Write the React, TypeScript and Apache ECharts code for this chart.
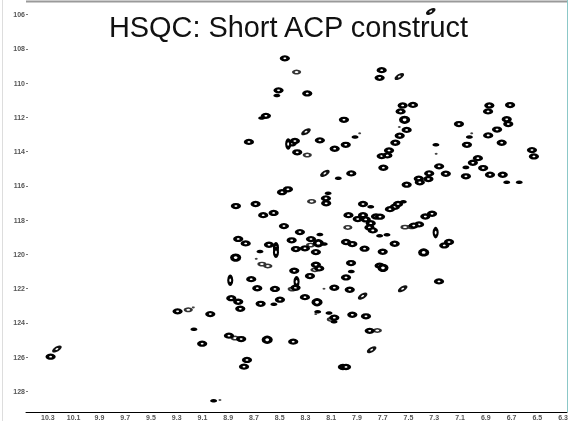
import React, { useEffect, useRef } from "react";
import * as echarts from "echarts";

const titleText = "HSQC: Short ACP construct";
const xTicks = [10.3, 10.1, 9.9, 9.7, 9.5, 9.3, 9.1, 8.9, 8.7, 8.5, 8.3, 8.1, 7.9, 7.7, 7.5, 7.3, 7.1, 6.9, 6.7, 6.5, 6.3];
const yTicks = [106, 108, 110, 112, 114, 116, 118, 120, 122, 124, 126, 128];

// [1H ppm, 15N ppm]
const mediumPeaks = [
  [8.46, 108.55], [8.509, 110.42], [8.607, 111.91], [8.739, 113.43], [8.482, 116.37], [8.436, 116.2], [8.84, 117.18], [8.687, 117.06],
  [8.628, 117.71], [8.547, 117.58], [7.708, 109.24], [7.724, 109.69], [8.286, 110.6], [7.545, 111.3], [7.465, 111.27], [7.561, 111.65],
  [6.872, 111.3], [6.711, 111.28], [6.882, 111.65], [8.001, 112.14], [6.737, 112.11], [6.725, 112.39], [7.108, 112.39], [7.514, 112.73],
  [6.812, 112.71], [8.188, 113.34], [7.568, 113.07], [6.881, 113.05], [8.407, 113.52], [8.382, 113.38], [7.987, 113.6], [8.073, 113.83],
  [7.602, 113.48], [6.776, 113.48], [7.046, 113.6], [6.541, 113.91], [7.651, 113.93], [8.364, 114.04], [7.708, 114.26], [7.664, 114.22],
  [6.526, 114.28], [6.961, 114.38], [7.0, 114.65], [7.262, 114.86], [6.92, 114.96], [7.695, 114.94], [7.944, 115.27], [7.339, 115.27],
  [7.21, 115.29], [7.054, 115.44], [6.867, 115.35], [6.768, 115.35], [7.345, 115.6], [7.42, 115.58], [7.412, 115.79], [7.514, 115.93],
  [8.141, 116.73], [8.139, 117.02], [7.853, 117.06], [7.605, 117.22], [7.644, 117.36], [7.581, 117.06], [7.317, 117.63], [7.369, 117.79],
  [7.966, 117.71], [7.853, 117.71], [7.752, 117.79], [7.721, 117.8], [7.894, 117.94], [7.832, 117.96], [7.793, 118.18], [7.803, 118.43],
  [7.777, 118.6], [8.467, 118.35], [7.418, 118.25], [7.459, 118.32], [8.343, 118.7], [8.257, 119.11], [8.407, 119.18], [7.985, 119.28],
  [7.936, 119.4], [7.607, 119.38], [7.185, 119.28], [7.222, 119.48], [8.304, 119.65], [8.374, 119.69], [7.841, 119.67], [8.219, 119.87],
  [7.7, 119.85], [8.219, 120.61], [7.946, 120.51], [7.724, 120.66], [8.193, 120.82], [8.387, 120.96], [8.265, 121.27], [7.985, 121.35],
  [7.263, 121.58], [8.377, 121.95], [8.076, 121.95], [7.956, 122.07], [8.304, 122.5], [8.498, 122.65], [8.076, 123.7], [7.936, 123.53],
  [7.83, 123.62], [7.801, 124.47], [8.395, 125.1], [8.009, 126.58], [7.985, 126.58], [10.279, 125.98], [9.293, 123.33], [9.039, 123.49],
  [9.102, 125.22], [8.894, 124.75], [8.799, 124.95], [8.754, 126.17], [8.777, 126.56], [8.721, 121.45], [8.674, 121.98], [8.537, 122.02],
  [8.876, 122.56], [8.822, 122.77], [8.806, 123.18], [8.648, 122.89], [8.822, 119.1], [8.764, 119.36], [8.583, 119.44],
];
const largePeaks = [
  [7.53, 112.14], [8.2, 119.35], [7.382, 119.89], [7.698, 120.79], [8.21, 122.8], [8.597, 124.99], [8.842, 120.19],
];
const tallPeaks = [
  [8.434, 113.55], [7.289, 118.73], [8.369, 121.6], [8.884, 121.51], [8.529, 119.62], [8.529, 119.88],
];
const tiltedPeaks = [
  [7.327, 105.81], [7.571, 109.61], [8.296, 112.84], [8.149, 115.27], [7.545, 122.01], [7.856, 122.44], [7.786, 125.57], [10.23, 125.53],
];
const weakPeaks = [
  [8.369, 109.35], [8.286, 114.2], [8.252, 116.91], [7.971, 118.43], [7.475, 118.39], [7.527, 118.41], [8.26, 119.46], [8.226, 120.9],
  [8.403, 122.03], [8.099, 123.8], [7.742, 124.45], [9.21, 123.24], [8.847, 124.89], [8.638, 120.57], [8.592, 120.68],
];
const smallPeaks = [
  [8.522, 110.72], [8.64, 112.04], [7.915, 113.15], [7.027, 113.15], [7.287, 113.6], [7.054, 114.92], [8.045, 115.56], [6.737, 115.79],
  [6.64, 115.79], [8.124, 116.43], [7.793, 117.22], [8.188, 118.84], [7.724, 118.92], [7.667, 118.86], [8.154, 119.39], [7.944, 121.0],
  [8.205, 123.35], [8.117, 123.43], [8.078, 123.94], [9.166, 124.38], [9.013, 128.55], [8.545, 122.92], [8.653, 119.83], [7.54, 116.93],
];
const tinyPeaks = [
  [7.571, 112.56], [7.879, 112.93], [7.009, 112.93], [7.285, 114.13], [8.156, 122.01], [8.22, 123.49], [9.171, 123.1], [8.964, 128.51], [8.682, 120.26],
];

function peakSeries(data: number[][], size: number[], border: number, color: string, rotate = 0) {
  return {
    type: "scatter",
    data,
    symbol: "circle",
    symbolSize: size,
    symbolRotate: rotate,
    silent: true,
    itemStyle: { color: "#ffffff", borderColor: color, borderWidth: border, opacity: 1 },
  };
}

export default function App() {
  const ref = useRef<HTMLDivElement>(null);
  useEffect(() => {
    document.body.style.margin = "0";
    const chart = echarts.init(ref.current!, undefined, { renderer: "svg" });
    chart.setOption({
      animation: false,
      backgroundColor: "#ffffff",
      grid: { left: 26, right: 4, top: 1, bottom: 9 },
      xAxis: {
        type: "value",
        inverse: true,
        min: 6.269,
        max: 10.47,
        axisLine: { show: true, onZero: false, lineStyle: { color: "#000000", width: 1 } },
        axisTick: { show: false },
        splitLine: { show: false },
        axisLabel: {
          customValues: xTicks,
          formatter: (v: number) => v.toFixed(1),
          fontFamily: "Liberation Sans",
          fontSize: 7,
          fontWeight: "bold",
          color: "#555555",
          margin: 2,
        },
      },
      yAxis: {
        type: "value",
        inverse: true,
        min: 105.2,
        max: 129.21,
        axisLine: { show: false },
        axisTick: { show: true, customValues: yTicks, inside: true, length: 2, lineStyle: { color: "#777777", width: 1 } },
        splitLine: { show: false },
        axisLabel: {
          customValues: yTicks,
          formatter: (v: number) => String(v),
          fontFamily: "Liberation Sans",
          fontSize: 7,
          fontWeight: "bold",
          color: "#555555",
          margin: 1,
        },
      },
      graphic: [
        { type: "line", silent: true, shape: { x1: 26, y1: 1.5, x2: 567, y2: 1.5 }, style: { stroke: "#9a9a9a", lineWidth: 2 } },
        { type: "line", silent: true, shape: { x1: 2.5, y1: 0, x2: 2.5, y2: 421 }, style: { stroke: "#dddddd", lineWidth: 1 } },
        { type: "line", silent: true, shape: { x1: 567.5, y1: 0, x2: 567.5, y2: 412 }, style: { stroke: "#8cc8c8", lineWidth: 1 } },
        {
          type: "text",
          silent: true,
          z: 10,
          x: 288.5,
          y: 12,
          style: { text: titleText, align: "center", verticalAlign: "top", fontFamily: "Liberation Sans", fontSize: 28.9, fill: "#111111" },
        },
      ],
      series: [
        peakSeries(weakPeaks, [6.5, 3.4], 2, "#333333"),
        peakSeries(mediumPeaks, [6.6, 4], 2.9, "#000000"),
        peakSeries(largePeaks, [7.5, 5.5], 3.2, "#000000"),
        peakSeries(tallPeaks, [4, 7.5], 2.9, "#000000"),
        peakSeries(tiltedPeaks, [7, 3.4], 2.6, "#111111", 30),
        peakSeries(smallPeaks, [3.6, 1.8], 2.4, "#000000"),
        peakSeries(tinyPeaks, [1.5, 1], 1.2, "#444444"),
      ],
    });
    return () => chart.dispose();
  }, []);
  return <div ref={ref} style={{ width: 571, height: 421, position: "absolute", left: 0, top: 0, filter: "blur(0.35px)" }} />;
}
